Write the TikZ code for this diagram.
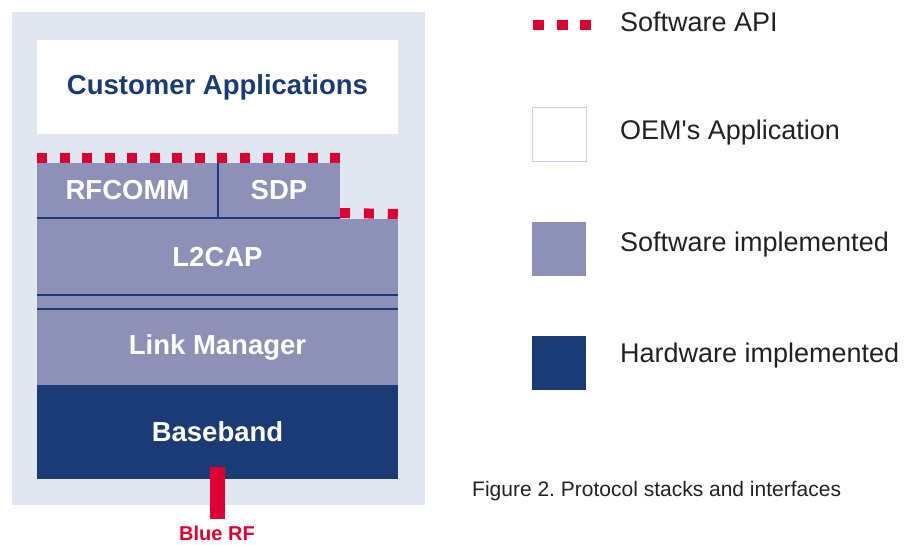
\documentclass[tikz,border=0pt]{standalone}
\usepackage{fontspec}
\setmainfont{Liberation Sans}
\usetikzlibrary{positioning}

\definecolor{panelbg}{HTML}{E1E7F1}
\definecolor{swcol}{HTML}{8E91B7}
\definecolor{hwcol}{HTML}{1B3B77}
\definecolor{apired}{HTML}{DE0031}
\definecolor{oemedge}{HTML}{C3D4EC}
\definecolor{legtext}{HTML}{222222}

\pgfdeclarelayer{background}
\pgfdeclarelayer{foreground}
\pgfsetlayers{background,main,foreground}

\begin{document}
\frenchspacing
\begin{tikzpicture} [
	   x=1pt, y=-1pt,
	   layer/.style    = { rectangle, anchor=north west, inner sep=0pt, outer sep=0pt,
	                            font=\fontsize{27.5}{29}\selectfont\bfseries, text=white },
	   swlayer/.style  = { layer, fill=swcol },
	   hwlayer/.style  = { layer, fill=hwcol },
	   sep/.style      = { draw=hwcol, line width=2pt },
	   apidash/.style  = { draw=apired, line width=10pt, dash pattern=on 10pt off 12.56pt },
	   legbox/.style   = { rectangle, anchor=north west, inner sep=0pt, outer sep=0pt,
	                            minimum width=54pt, minimum height=54pt },
	   legtxt/.style   = { anchor=west, inner sep=0pt, text=legtext, font=\fontsize{27}{29}\selectfont },
	 ]
	  \useasboundingbox (0,0) rectangle (915,544);

	  % stack of layers
	  \node [layer, fill=white, text=hwcol, minimum width=361pt, minimum height=94pt] (custapp) at (37,40) {Customer Applications};
	  \node [swlayer, minimum width=181pt, minimum height=55pt] (rfcomm) at (37,163) {RFCOMM};
	  \node [swlayer, minimum width=122pt, minimum height=55pt] (sdp) at (218,163) {SDP};
	  \node [swlayer, minimum width=361pt, minimum height=76pt] (l2cap) at (37,219) {L2CAP};
	  \node [swlayer, minimum width=361pt, minimum height=76pt] (linkmgr) at (37,309) {Link Manager};
	  \node [hwlayer, minimum width=361pt, minimum height=94pt] (baseband) at (37,385) {Baseband};

	  \node [text=apired, font=\fontsize{20}{22}\selectfont\bfseries, inner sep=0pt] (bluerf) at (217,533) {Blue RF};
	  \coordinate (rftop) at (217.5,467);
	  \coordinate (rfbot) at (217.5,519);

	  % legend
	  \coordinate (apia) at (533,25);
	  \coordinate (apib) at (591,25);
	  \node [legtxt] (apitxt) at (620,22) {Software API};
	  \node [legbox, draw=oemedge, line width=1pt, fill=white] (oembox) at (532.5,107.5) {};
	  \node [legtxt] (oemtxt) at (620,133) {OEM\textquotesingle s Application};
	  \node [legbox, fill=swcol] (swbox) at (532,222) {};
	  \node [legtxt] (swtxt) at (620,245) {Software implemented};
	  \node [legbox, fill=hwcol] (hwbox) at (532,336) {};
	  \node [legtxt] (hwtxt) at (620,356) {Hardware implemented};

	  \node [anchor=west, inner sep=0pt, text=legtext, font=\fontsize{21}{23}\selectfont] (caption) at (472,491) {Figure 2. Protocol stacks and interfaces};

	 \begin{pgfonlayer}{foreground}
	  \begin{scope} [every path/.style=sep]
		\path (rfcomm.north east) -- (rfcomm.south east);
		\path (rfcomm.south west) -- (sdp.south east);
		\path (l2cap.south west) -- (l2cap.south east);
		\path (linkmgr.north west) -- (linkmgr.north east);
	  \end{scope}
	  % software API
	  \path [apidash] ([yshift=5pt]rfcomm.north west) -- ([yshift=5pt]sdp.north east);
	  \path [apidash, dash pattern=on 10pt off 13.9pt] ([yshift=5pt]sdp.south east) -- ([yshift=5pt]l2cap.north east);
	  \path [apidash, line width=10.5pt, dash pattern=on 11pt off 12.5pt] (apia) -- (apib);
	  \path [draw=apired, line width=15pt] (rftop) -- (rfbot);
	 \end{pgfonlayer}

	\begin{pgfonlayer}{background}
	  	\path [fill=panelbg] (12,12) rectangle (425,505);
		\path [fill=swcol] (l2cap.south west) rectangle (linkmgr.north east);
	\end{pgfonlayer}
	\end{tikzpicture}
\end{document}
